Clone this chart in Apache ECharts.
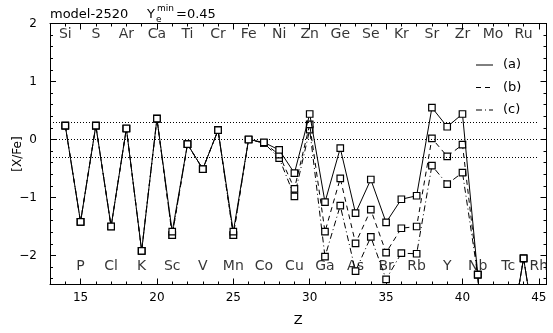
<!DOCTYPE html>
<html>
<head>
<meta charset="utf-8">
<script src="https://cdn.jsdelivr.net/npm/echarts@6/dist/echarts.min.js"></script>
<style>html,body{margin:0;padding:0;background:#fff}#c{width:553px;height:333px}</style>
</head>
<body>
<div id="c"></div>
<script>
// ---- data ----
const Z = [14,15,16,17,18,19,20,21,22,23,24,25,26,27,28,29,30,31,32,33,34,35,36,37,38,39,40,41,42,43,44,45];
const seriesA = [0.24,-1.42,0.24,-1.50,0.19,-1.92,0.36,-1.59,-0.08,-0.51,0.16,-1.59,0.00,-0.05,-0.18,-0.58,0.44,-1.08,-0.15,-1.27,-0.69,-1.43,-1.03,-0.97,0.55,0.22,0.44,-2.33,-6.0,-3.6,-2.05,-3.7];
const seriesB = [0.24,-1.42,0.24,-1.50,0.19,-1.92,0.36,-1.65,-0.08,-0.51,0.16,-1.65,0.00,-0.06,-0.26,-0.85,0.26,-1.59,-0.67,-1.79,-1.21,-1.95,-1.53,-1.50,0.02,-0.29,-0.09,-2.33,-6.0,-3.6,-2.05,-3.7];
const seriesC = [0.24,-1.42,0.24,-1.50,0.19,-1.92,0.36,-1.65,-0.08,-0.51,0.16,-1.65,0.00,-0.06,-0.32,-0.98,0.17,-2.02,-1.14,-2.27,-1.68,-2.41,-1.96,-1.97,-0.45,-0.77,-0.57,-2.33,-6.0,-3.6,-2.05,-3.7];
const seriesNames = ['(a)','(b)','(c)'];
const topZ = [14,16,18,20,22,24,26,28,30,32,34,36,38,40,42,44];
const topElem = ['Si','S','Ar','Ca','Ti','Cr','Fe','Ni','Zn','Ge','Se','Kr','Sr','Zr','Mo','Ru'];
const botZ = [15,17,19,21,23,25,27,29,31,33,35,37,39,41,43,45];
const botElem = ['P','Cl','K','Sc','V','Mn','Co','Cu','Ga','As','Br','Rb','Y','Nb','Tc','Rh'];
const xTicks = [15,20,25,30,35,40,45];
const yTicks = [-2,-1,0,1,2];
const refLevels = [0.3, 0, -0.3];

// ---- layout ----
const W = 553, H = 333;
const L = 50, R = 6.5, T = 23.5, B = 48.5;
const xMin = 13, xMax = 45.5, yMin = -2.5, yMax = 2;
const u = (W - L - R) / (xMax - xMin);
const v = (H - T - B) / (yMax - yMin);
const FONT = 'DejaVu Sans';
const minus = s => String(s).replace('-', '\u2212');

const chart = echarts.init(document.getElementById('c'), null, {renderer: 'canvas'});

const hiddenX = (gi) => ({gridIndex: gi, type: 'value', show: false, min: xMin, max: xMax});
const hiddenY = (gi) => ({gridIndex: gi, type: 'value', show: false, min: yMin, max: yMax});
const line = {show: true, onZero: false, lineStyle: {color: '#000', width: 1}};
const noLine = {show: false, onZero: false};
const tick = (len) => ({show: true, inside: true, length: len, lineStyle: {color: '#000', width: 1}});

const xMajMin = xTicks[0], xMajMax = xTicks[xTicks.length - 1];
const yMajMin = yTicks[0], yMajMax = yTicks[yTicks.length - 1];
const yMinorMin = -2.4;

const option = {
  animation: false,
  backgroundColor: '#fff',
  grid: [
    {left: L, right: R, top: T, bottom: B},
    {left: L + (xMajMin - xMin) * u, right: R + (xMax - xMajMax) * u, top: T, bottom: B},
    {left: L, right: R, top: T + (yMax - yMajMax) * v, bottom: B + (yMajMin - yMin) * v},
    {left: L, right: R, top: T, bottom: B + (yMinorMin - yMin) * v}
  ],
  xAxis: [
    {gridIndex: 0, type: 'value', position: 'bottom', min: xMin, max: xMax, interval: 1,
     axisLine: line, axisTick: tick(3),
     axisLabel: {show: false}, splitLine: {show: false},
     name: 'Z', nameLocation: 'middle', nameGap: 30,
     nameTextStyle: {fontFamily: FONT, fontSize: 13, color: '#000'}},
    {gridIndex: 0, type: 'value', position: 'top', min: xMin, max: xMax, interval: 1,
     axisLine: line, axisTick: tick(3),
     axisLabel: {show: false}, splitLine: {show: false}},
    {gridIndex: 1, type: 'value', position: 'bottom', min: xMajMin, max: xMajMax, interval: 5,
     axisLine: noLine, axisTick: tick(6),
     axisLabel: {show: true, margin: 7, fontFamily: FONT, fontSize: 12, color: '#000'}, splitLine: {show: false}},
    {gridIndex: 1, type: 'value', position: 'top', min: xMajMin, max: xMajMax, interval: 5,
     axisLine: noLine, axisTick: tick(6),
     axisLabel: {show: false}, splitLine: {show: false}},
    hiddenX(2),
    hiddenX(3)
  ],
  yAxis: [
    {gridIndex: 0, type: 'value', position: 'left', min: yMin, max: yMax,
     axisLine: line, axisTick: {show: false}, axisLabel: {show: false}, splitLine: {show: false},
     name: '[X/Fe]', nameLocation: 'middle', nameGap: 26, nameRotate: 90,
     nameTextStyle: {fontFamily: FONT, fontSize: 12, color: '#000'}},
    {gridIndex: 0, type: 'value', position: 'right', min: yMin, max: yMax,
     axisLine: line, axisTick: {show: false}, axisLabel: {show: false}, splitLine: {show: false}},
    hiddenY(1),
    {gridIndex: 2, type: 'value', position: 'left', min: yMajMin, max: yMajMax, interval: 1,
     axisLine: noLine, axisTick: tick(6),
     axisLabel: {show: true, margin: 13, fontFamily: FONT, fontSize: 12, color: '#000', formatter: minus},
     splitLine: {show: false}},
    {gridIndex: 2, type: 'value', position: 'right', min: yMajMin, max: yMajMax, interval: 1,
     axisLine: noLine, axisTick: tick(6),
     axisLabel: {show: false}, splitLine: {show: false}},
    {gridIndex: 3, type: 'value', position: 'left', min: yMinorMin, max: yMax, interval: 0.2,
     axisLine: noLine, axisTick: tick(3),
     axisLabel: {show: false}, splitLine: {show: false}},
    {gridIndex: 3, type: 'value', position: 'right', min: yMinorMin, max: yMax, interval: 0.2,
     axisLine: noLine, axisTick: tick(3),
     axisLabel: {show: false}, splitLine: {show: false}},
    hiddenY(3)
  ],
  series: []
};

const styles = [
  {type: 'solid'},
  {type: [5, 4]},
  {type: [6, 3, 1, 3]}
];
const vals = [seriesA, seriesB, seriesC];

// reference dotted lines
option.series.push({
  type: 'line', xAxisIndex: 0, yAxisIndex: 0, data: [], silent: true,
  markLine: {
    silent: true, symbol: 'none', label: {show: false},
    lineStyle: {color: '#000', width: 1, type: [1, 2]},
    data: refLevels.map(y => [{coord: [xMin, y]}, {coord: [xMajMax, y]}])
  }
});

for (let k = 2; k >= 0; k--) {
  option.series.push({
    type: 'line', name: seriesNames[k], xAxisIndex: 0, yAxisIndex: 0,
    data: Z.map((z, i) => [z, vals[k][i]]),
    clip: true,
    symbol: 'rect', symbolSize: 6.5, showSymbol: true,
    lineStyle: {color: '#000', width: 1, type: styles[k].type},
    itemStyle: {color: '#fff', borderColor: '#000', borderWidth: 1.2},
    z: 3 + (2 - k)
  });
}

const labelTopY = 1.82, labelBotY = -2.18;
option.series.push({
  type: 'scatter', xAxisIndex: 0, yAxisIndex: 0, symbolSize: 0, silent: true,
  data: topZ.map((z, i) => ({value: [z, labelTopY], name: topElem[i]}))
    .concat(botZ.map((z, i) => ({value: [z, labelBotY], name: botElem[i]}))),
  label: {show: true, position: 'inside', formatter: p => p.name,
          fontFamily: FONT, fontSize: 14, color: '#000'},
  z: 2
});

// legend & title
const legY = [65, 87.5, 110];
const dashes = [null, [5, 4], [6, 3, 1, 3]];
const graphics = [];
for (let k = 0; k < 3; k++) {
  graphics.push({type: 'line', shape: {x1: 476, y1: legY[k], x2: 493, y2: legY[k]},
    style: {stroke: '#000', lineWidth: 1, lineDash: dashes[k]}});
  graphics.push({type: 'text', x: 503, y: legY[k],
    style: {text: seriesNames[k], fontFamily: FONT, fontSize: 13, fill: '#000', verticalAlign: 'middle'}});
}
graphics.push({type: 'text', x: 50, y: 15, style: {text: 'model-2520', fontFamily: FONT, fontSize: 13, fill: '#000', verticalAlign: 'middle'}});
graphics.push({type: 'text', x: 147, y: 15, style: {text: 'Y', fontFamily: FONT, fontSize: 13, fill: '#000', verticalAlign: 'middle'}});
graphics.push({type: 'text', x: 156, y: 20, style: {text: 'e', fontFamily: FONT, fontSize: 9, fill: '#000', verticalAlign: 'middle'}});
graphics.push({type: 'text', x: 157, y: 9, style: {text: 'min', fontFamily: FONT, fontSize: 9, fill: '#000', verticalAlign: 'middle'}});
graphics.push({type: 'text', x: 176, y: 15, style: {text: '=0.45', fontFamily: FONT, fontSize: 13, fill: '#000', verticalAlign: 'middle'}});
option.graphic = graphics;

chart.setOption(option);
</script>
</body>
</html>
